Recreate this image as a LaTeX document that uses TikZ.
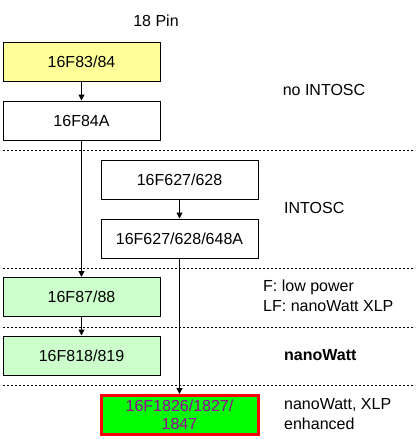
\documentclass[tikz,border=0pt]{standalone}
\usepackage{fontspec}
\setmainfont{Liberation Sans}
\usepackage{xcolor}
\usetikzlibrary{arrows.meta, positioning}
\definecolor{chipyellow}{HTML}{FFFF99}
\definecolor{chipgreen}{HTML}{CCFFCC}
\definecolor{chipbright}{HTML}{00FF00}
\definecolor{chippurple}{HTML}{990099}
\tikzset{
  chip/.style={draw, line width=1pt, minimum width=157pt, minimum height=39pt, inner sep=0pt, align=center},
  sep/.style={line width=0.8pt, dash pattern=on 2pt off 2pt},
  note/.style={anchor=west, align=left, inner sep=0pt},
}
\begin{document}
\begin{tikzpicture}[x=1pt, y=-1pt, >={Triangle[length=6pt,width=6pt]}, font=\fontsize{16}{19}\selectfont]
    \useasboundingbox (0,0) rectangle (418,439);
    \node (pin) at (156,21) {18 Pin};
    \node[chip, fill=chipyellow] (f8384) at (81.5,61.5) {16F83/84};
    \node[chip] (f84a) at (81.5,120.5) {16F84A};
    \node[chip] (f627) at (179.5,179.5) {16F627/628};
    \node[chip] (f648) at (179.5,238.5) {16F627/628/648A};
    \node[chip, fill=chipgreen] (f87) at (81.5,297) {16F87/88};
    \node[chip, fill=chipgreen] (f818) at (81.5,355.5) {16F818/819};
    \node[chip, fill=chipbright, draw=red, line width=3pt, text=chippurple, font=\fontsize{16}{18.5}\selectfont] (f1826) at (179.5,415) {16F1826/1827/\\1847};
    % separators
    \draw[sep] (3,150) -- (415,150);
    \draw[sep] (3,268.5) -- (415,268.5);
    \draw[sep] (3,327) -- (415,327);
    \draw[sep] (3,385) -- (415,385);
    % right hand notes
    \node (nointosc) at (324,90) {no INTOSC};
    \node[note] (intosc) at (284,208) {INTOSC};
    \node[note, font=\fontsize{16}{20}\selectfont] (lowpow) at (263,296) {F: low power\\LF: nanoWatt XLP};
    \node[note] (nanowatt) at (284,355) {\textbf{nanoWatt}};
    \node[note, font=\fontsize{16}{20}\selectfont] (xlp) at (284,414) {nanoWatt, XLP\\enhanced};
    % arrows
    \draw[->, line width=1pt] (f8384) -- (f84a);
    \draw[->, line width=1pt] (f84a) -- (f87);
    \draw[->, line width=1pt] (f627) -- (f648);
    \draw[->, line width=1pt] (f87) -- (f818);
    \draw[->, line width=1pt] (f648) -- (f1826);
\end{tikzpicture}
\end{document}
